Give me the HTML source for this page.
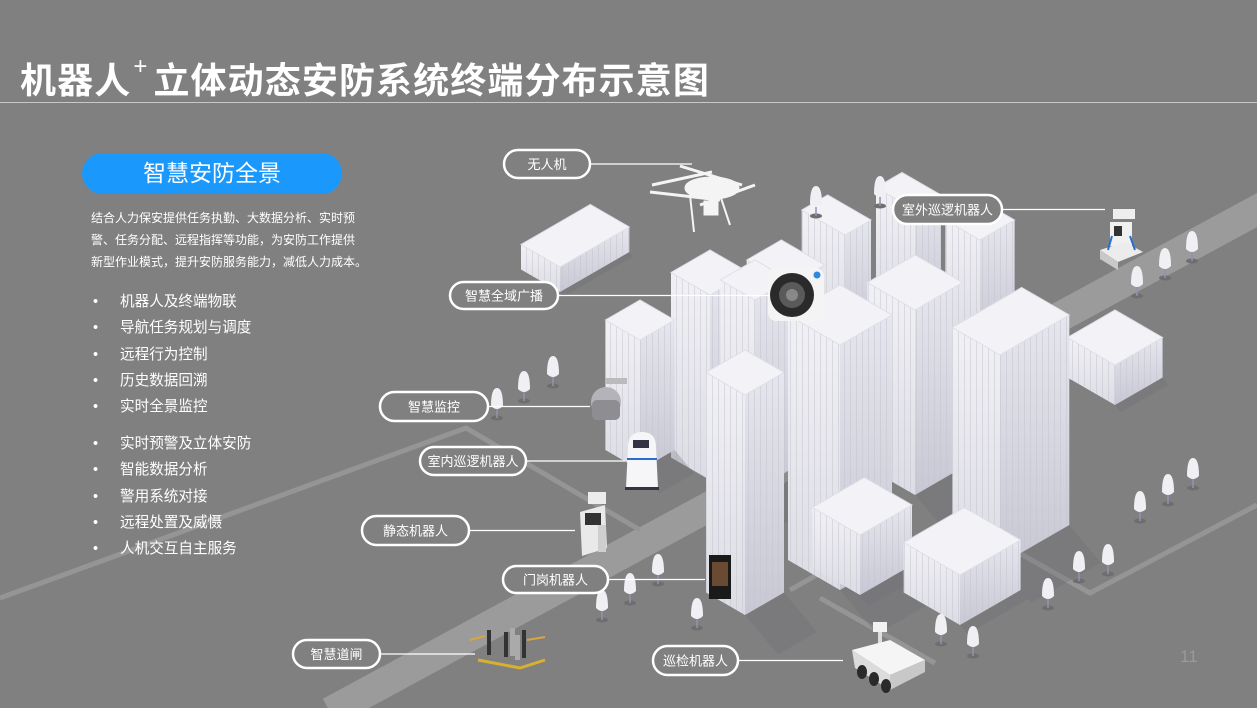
<!DOCTYPE html>
<html><head><meta charset="utf-8">
<style>
html,body{margin:0;padding:0}
body{width:1257px;height:708px;background:#808080;position:relative;overflow:hidden;font-family:"Liberation Sans","Noto Sans CJK SC",sans-serif;color:#fff}
#title{position:absolute;left:20px;top:52px;font-size:36px;font-weight:bold;letter-spacing:1.1px;white-space:nowrap}
#title sup{font-size:24px;font-weight:normal;position:relative;top:-6px;margin:0 5px 0 2px}
#hr{position:absolute;left:0;top:102px;width:1257px;height:1px;background:#c8c8c8}
#pill{position:absolute;left:82px;top:153px;width:260px;height:41px;border-radius:21px;background:#1a98fc;font-size:23px;text-align:center;line-height:40px}
#para{position:absolute;left:91px;top:207px;width:290px;font-size:12px;line-height:22px}
ul{position:absolute;left:93px;margin:0;padding:0;list-style:none;font-size:14.6px}
ul li{height:26.3px;line-height:26px;position:relative;padding-left:27px}
ul li:before{content:"•";position:absolute;left:0}
svg{position:absolute;left:0;top:0}
</style></head><body>
<svg id="s" width="1257" height="708" viewBox="0 0 1257 708">
<defs>
<linearGradient id="gl" x1="0" y1="0" x2="0" y2="1"><stop offset="0" stop-color="#f1f1f5"/><stop offset="1" stop-color="#dcdce4"/></linearGradient>
<linearGradient id="gr" x1="0" y1="0" x2="0" y2="1"><stop offset="0" stop-color="#e6e6ee"/><stop offset="1" stop-color="#c8c8d4"/></linearGradient>
<pattern id="st" width="6" height="10" patternUnits="userSpaceOnUse"><rect width="6" height="10" fill="none"/><rect x="4" width="1" height="10" fill="#c4c4d0" opacity=".5"/></pattern>
</defs>
<g id="ground">
<line x1="330" y1="712" x2="1270" y2="203" stroke="#9b9b9b" stroke-width="30"/>
<polyline points="0,598 466,428 640,530" fill="none" stroke="#959595" stroke-width="5"/>
<polyline points="820,598 935,663" fill="none" stroke="#959595" stroke-width="5"/>
<polyline points="790,590 893,532 1000,590" fill="none" stroke="#959595" stroke-width="5"/>
<polyline points="1005,545 1090,593 1257,505" fill="none" stroke="#959595" stroke-width="5"/>
</g>
<g id="bld"></g>
<g id="trees"></g>
<g id="dev">
<g stroke="#f4f4f4" stroke-width="3" fill="#f4f4f4">
<line x1="652" y1="185" x2="712" y2="172"/><line x1="680" y1="166" x2="742" y2="185"/>
<line x1="650" y1="192" x2="720" y2="200"/><line x1="700" y1="205" x2="755" y2="185"/>
<ellipse cx="712" cy="188" rx="26" ry="10"/>
<line x1="690" y1="195" x2="694" y2="232" stroke-width="2"/><line x1="720" y1="195" x2="730" y2="225" stroke-width="2"/>
<rect x="705" y="202" width="12" height="12"/>
</g>
<rect x="768" y="268" width="56" height="53" rx="8" fill="#f4f4f4"/>
<circle cx="792" cy="295" r="22" fill="#2a2a2a"/><circle cx="792" cy="295" r="13" fill="#5a5a5a"/><circle cx="792" cy="295" r="6" fill="#888"/>
<circle cx="817" cy="275" r="3.5" fill="#2a8ae0"/>
<rect x="605" y="378" width="22" height="6" fill="#bbb"/>
<circle cx="606" cy="402" r="15" fill="#b4b4b8"/><rect x="592" y="400" width="28" height="20" rx="5" fill="#8d8d92"/>
<path d="M628 447 Q628 432 642 432 Q656 432 656 447 L658 488 L626 488 Z" fill="#f6f6f8"/>
<rect x="633" y="440" width="16" height="8" fill="#334"/>
<rect x="627" y="458" width="30" height="2" fill="#2a6fd0"/><rect x="625" y="487" width="34" height="3" fill="#334"/>
<rect x="588" y="492" width="18" height="12" fill="#ececec"/>
<path d="M580 512 L605 505 L607 548 L582 556 Z" fill="#e9e9e9"/><rect x="585" y="513" width="16" height="12" fill="#333"/>
<rect x="598" y="525" width="8" height="27" fill="#cfcfcf"/>
<rect x="709" y="555" width="22" height="44" fill="#1a1a1a"/><rect x="712" y="562" width="16" height="24" fill="#6a4a30"/>
<g fill="#333"><rect x="487" y="630" width="4" height="25"/><rect x="504" y="632" width="4" height="25"/><rect x="522" y="630" width="4" height="28"/></g>
<g fill="#aaa"><rect x="510" y="628" width="5" height="28"/><rect x="515" y="635" width="5" height="25"/></g>
<line x1="470" y1="640" x2="485" y2="636" stroke="#d8a640" stroke-width="2"/><line x1="527" y1="640" x2="545" y2="637" stroke="#d8a640" stroke-width="2"/>
<path d="M478 660 L520 668 L545 660" stroke="#d8b030" stroke-width="3" fill="none"/>
<rect x="1113" y="209" width="22" height="10" fill="#eee"/><rect x="1110" y="222" width="22" height="24" fill="#f0f0f0"/>
<rect x="1114" y="226" width="8" height="10" fill="#333"/>
<path d="M1100 250 L1125 242 L1143 252 L1118 262 Z" fill="#ececec"/><path d="M1100 250 L1118 262 L1118 270 L1100 259Z" fill="#c8c8c8"/>
<line x1="1108" y1="250" x2="1112" y2="236" stroke="#2a6fd0" stroke-width="2"/><line x1="1135" y1="250" x2="1130" y2="236" stroke="#2a6fd0" stroke-width="2"/>
<rect x="873" y="622" width="14" height="10" fill="#f2f2f2"/><rect x="878" y="632" width="4" height="18" fill="#ddd"/>
<path d="M852 650 L890 640 L925 660 L890 675 Z" fill="#f5f5f5"/><path d="M852 650 L890 675 L890 690 L855 668Z" fill="#dcdcdc"/><path d="M890 675 L925 660 L925 672 L890 690Z" fill="#c8c8c8"/>
<g fill="#2a2a2a"><ellipse cx="862" cy="672" rx="5" ry="7"/><ellipse cx="874" cy="679" rx="5" ry="7"/><ellipse cx="886" cy="686" rx="5" ry="7"/></g>
</g>
<g id="labels" fill="none" stroke="#fff" stroke-width="1.5"></g>
<text x="1180" y="662" font-size="17" fill="#9a9a9a" font-family="Liberation Sans">11</text>
</svg>
<div id="title">机器人<sup>+</sup>立体动态安防系统终端分布示意图</div>
<div id="hr"></div>
<div id="pill">智慧安防全景</div>
<div id="para">结合人力保安提供任务执勤、大数据分析、实时预<br>警、任务分配、远程指挥等功能，为安防工作提供<br>新型作业模式，提升安防服务能力，减低人力成本。</div>
<ul style="top:289px"><li>机器人及终端物联</li><li>导航任务规划与调度</li><li>远程行为控制</li><li>历史数据回溯</li><li>实时全景监控</li></ul>
<ul style="top:431px"><li>实时预警及立体安防</li><li>智能数据分析</li><li>警用系统对接</li><li>远程处置及威慑</li><li>人机交互自主服务</li></ul>
<script>
var NS="http://www.w3.org/2000/svg";
function el(p,t,a){var e=document.createElementNS(NS,t);for(var k in a)e.setAttribute(k,a[k]);p.appendChild(e);return e;}
var B=document.getElementById("bld");
var c=0.866,s=0.5;
function box(x,y,a,b,H){
 var t=y-H;
 var L=[[x,t],[x-a*c,t-a*s],[x-a*c,y-a*s],[x,y]];
 var R=[[x,t],[x+b*c,t-b*s],[x+b*c,y-b*s],[x,y]];
 var T=[[x,t],[x-a*c,t-a*s],[x-a*c+b*c,t-a*s-b*s],[x+b*c,t-b*s]];
 var f=function(P){return P.map(function(p){return p[0].toFixed(1)+","+p[1].toFixed(1)}).join(" ")};
 el(B,"polygon",{points:f([[x,y],[x+b*c,y-b*s],[x+b*c+H*0.15,y-b*s+H*0.18],[x+H*0.15,y+H*0.18]]),fill:"#6e6e78",opacity:".3"});
 el(B,"polygon",{points:f(L),fill:"url(#gl)"});
 el(B,"polygon",{points:f(L),fill:"url(#st)"});
 el(B,"polygon",{points:f(R),fill:"url(#gr)"});
 el(B,"polygon",{points:f(R),fill:"url(#st)"});
 el(B,"polygon",{points:f(T),fill:"#f3f3f7",stroke:"#dedee6","stroke-width":"1"});
}
box(560,292,45,80,25);
box(845,335,50,30,100);
box(915,310,45,30,100);
box(980,340,40,40,100);
box(790,360,50,40,75);
box(710,480,45,45,185);
box(640,470,40,40,130);
box(755,490,40,40,190);
box(915,495,55,55,185);
box(1115,405,55,55,40);
box(1000,565,55,80,210);
box(840,590,60,60,245);
box(860,595,55,60,60);
box(745,615,45,45,220);
box(960,625,65,70,50);
var TR=document.getElementById("trees");
[[816,200],[880,190],[1192,245],[1165,262],[1137,280],[553,370],[524,385],[497,402],[1193,472],[1168,488],[1140,505],[1108,558],[1079,565],[1048,592],[658,568],[630,587],[602,604],[697,612],[941,628],[973,640]].forEach(function(p){
 el(TR,"ellipse",{cx:p[0],cy:p[1]+16,rx:6,ry:2.5,fill:"#6e6e6e"});
 el(TR,"line",{x1:p[0],y1:p[1]+6,x2:p[0],y2:p[1]+16,stroke:"#9a8fb0","stroke-width":1.5});
 el(TR,"path",{d:"M"+(p[0]-6)+" "+(p[1]+4)+" Q"+(p[0]-6)+" "+(p[1]-14)+" "+p[0]+" "+(p[1]-14)+" Q"+(p[0]+6)+" "+(p[1]-14)+" "+(p[0]+6)+" "+(p[1]+4)+" Q"+p[0]+" "+(p[1]+10)+" "+(p[0]-6)+" "+(p[1]+4)+"Z",fill:"#efeff4"});
});
var LB=document.getElementById("labels");
[["无人机",504,150,86,28,692],["室外巡逻机器人",893,195,109,29,1105],["智慧全域广播",450,282,108,27,770],["智慧监控",380,392,108,29,590],["室内巡逻机器人",420,447,106,28,625],["静态机器人",362,516,107,29,575],["门岗机器人",503,566,105,27,705],["智慧道闸",293,640,87,28,475],["巡检机器人",653,646,85,29,843]].forEach(function(d){
 var x=d[1],y=d[2],w=d[3],h=d[4],cy=y+h/2;
 el(LB,"line",{x1:x+w,y1:cy,x2:d[5],y2:cy,"stroke-width":1.3});
 el(LB,"rect",{x:x,y:y,width:w,height:h,rx:h/2,"stroke-width":2.5,fill:"#808080"});
 var t=el(LB,"text",{x:x+w/2,y:cy+5,"text-anchor":"middle","font-size":13,fill:"#fff",stroke:"none","font-family":"Liberation Sans, Noto Sans CJK SC, sans-serif"});
 t.textContent=d[0];
});
</script>
</body></html>
